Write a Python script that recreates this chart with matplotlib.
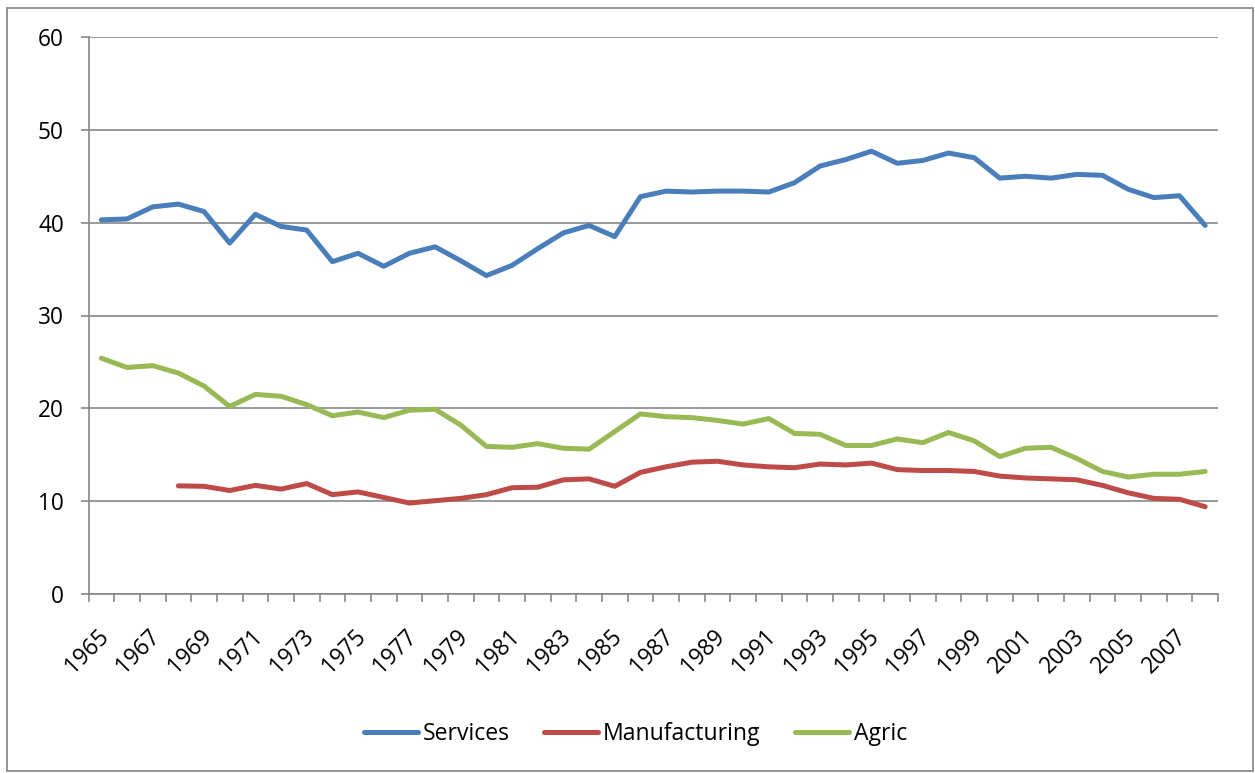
import matplotlib
matplotlib.use("Agg")
import matplotlib.pyplot as plt
from matplotlib.patches import Rectangle
from matplotlib.transforms import ScaledTranslation
import numpy as np

plt.rcParams['font.family'] = ['Open Sans', 'DejaVu Sans']

years = list(range(1965, 2009))

services = [40.3, 40.4, 41.7, 42.0, 41.2, 37.8, 40.9, 39.6, 39.2, 35.8,
            36.7, 35.3, 36.7, 37.4, 35.9, 34.3, 35.4, 37.2, 38.9, 39.7,
            38.5, 42.8, 43.4, 43.3, 43.4, 43.4, 43.3, 44.3, 46.1, 46.8,
            47.7, 46.4, 46.7, 47.5, 47.0, 44.8, 45.0, 44.8, 45.2, 45.1,
            43.6, 42.7, 42.9, 39.7]

manufacturing = [np.nan, np.nan, np.nan, 11.65, 11.6, 11.15, 11.7, 11.3, 11.9, 10.7,
                 11.0, 10.4, 9.8, 10.05, 10.3, 10.7, 11.45, 11.5, 12.3, 12.4,
                 11.6, 13.1, 13.7, 14.2, 14.3, 13.9, 13.7, 13.6, 14.0, 13.9,
                 14.1, 13.4, 13.3, 13.3, 13.2, 12.7, 12.5, 12.4, 12.3, 11.7,
                 10.9, 10.3, 10.2, 9.4]

agric = [25.4, 24.4, 24.6, 23.8, 22.4, 20.2, 21.5, 21.3, 20.4, 19.2,
         19.6, 19.0, 19.8, 19.9, 18.2, 15.9, 15.8, 16.2, 15.7, 15.6,
         17.5, 19.4, 19.1, 19.0, 18.7, 18.3, 18.9, 17.3, 17.2, 16.0,
         16.0, 16.7, 16.3, 17.4, 16.5, 14.8, 15.7, 15.8, 14.6, 13.2,
         12.6, 12.9, 12.9, 13.2]

series_names = ["Services", "Manufacturing", "Agric"]
series_colors = ["#4A7EBB", "#BE4B48", "#98B954"]

W, H = 1255, 773
fig = plt.figure(figsize=(W / 100, H / 100), dpi=100)
fig.patch.set_facecolor("white")

# chart-area border
fig.patches.append(Rectangle((7 / W, 1 - 771 / H), (1253 - 7) / W, (771 - 8) / H,
                             transform=fig.transFigure, fill=False,
                             edgecolor="#8c8c8c", linewidth=1.3))

ax = fig.add_axes([88.5 / W, 1 - 594 / H, (1218 - 88.5) / W, (594 - 37) / H])

x = np.arange(len(years))
for vals, name, col in zip([services, manufacturing, agric], series_names, series_colors):
    ax.plot(x, vals, color=col, linewidth=3.6, label=name,
            solid_capstyle="round", solid_joinstyle="round", zorder=3)

grid_col = "#878787"
ax.set_ylim(0, 60)
ax.set_yticks(np.arange(0, 61, 10))
ax.yaxis.grid(True, color=grid_col, linewidth=1.2)
ax.set_axisbelow(True)
ax.set_xlim(-0.5, len(years) - 0.5)

# category labels every other year, tick marks on category boundaries
ax.set_xticks(x[::2])
ax.set_xticklabels([str(y) for y in years[::2]], rotation=45, ha="right",
                   va="center", rotation_mode="anchor")
ax.set_xticks(np.arange(-0.5, len(years)), minor=True)
ax.tick_params(axis="x", which="major", length=0, pad=28, labelsize=16.3)
ax.tick_params(axis="x", which="minor", length=5.8, width=1.2, color=grid_col, direction="out")
ax.tick_params(axis="y", length=5.8, width=1.2, color=grid_col, pad=12, labelsize=16.3)

# nudge the rotated year labels slightly right
shift = ScaledTranslation(4 / 100, 0, fig.dpi_scale_trans)
for lab in ax.get_xticklabels():
    lab.set_transform(lab.get_transform() + shift)

for s in ["top", "right"]:
    ax.spines[s].set_visible(False)
for s in ["left", "bottom"]:
    ax.spines[s].set_color(grid_col)
    ax.spines[s].set_linewidth(1.2)

fig.legend(loc="center", bbox_to_anchor=(635.5 / W, 1 - 734 / H), ncol=3,
           frameon=False, fontsize=16.6, handlelength=2.35, handletextpad=0.2,
           columnspacing=1.5)

fig.savefig("out.png", dpi=100)
